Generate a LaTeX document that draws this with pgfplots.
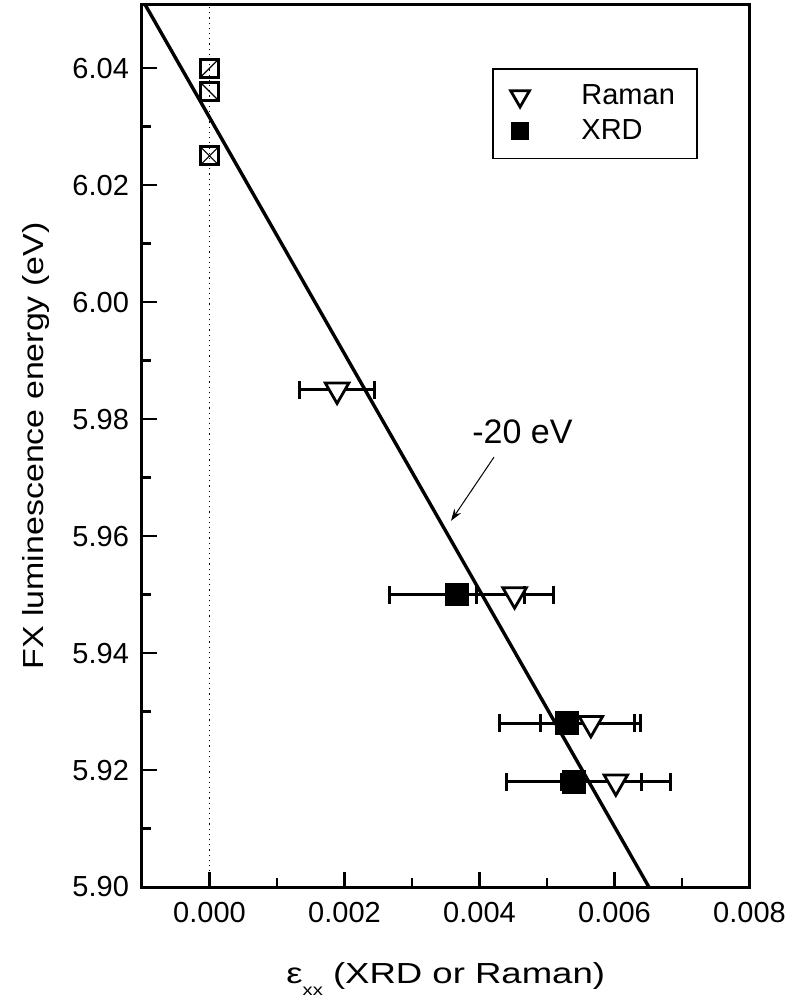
\documentclass[border=0pt]{standalone}
\usepackage{fontspec}
\setmainfont{Liberation Sans}
\usepackage{graphicx}
\usepackage{pgfplots}
\pgfplotsset{compat=1.18}
\usetikzlibrary{arrows.meta}

\pgfdeclareplotmark{sqslash}{%
  \pgfpathrectangle{\pgfpoint{-\pgfplotmarksize}{-\pgfplotmarksize}}{\pgfpoint{2\pgfplotmarksize}{2\pgfplotmarksize}}%
  \pgfusepathqstroke
  \pgfsetlinewidth{0.6pt}%
  \pgfpathmoveto{\pgfpoint{-\pgfplotmarksize}{-\pgfplotmarksize}}%
  \pgfpathlineto{\pgfpoint{\pgfplotmarksize}{\pgfplotmarksize}}%
  \pgfusepathqstroke}
\pgfdeclareplotmark{sqbackslash}{%
  \pgfpathrectangle{\pgfpoint{-\pgfplotmarksize}{-\pgfplotmarksize}}{\pgfpoint{2\pgfplotmarksize}{2\pgfplotmarksize}}%
  \pgfusepathqstroke
  \pgfsetlinewidth{0.6pt}%
  \pgfpathmoveto{\pgfpoint{-\pgfplotmarksize}{\pgfplotmarksize}}%
  \pgfpathlineto{\pgfpoint{\pgfplotmarksize}{-\pgfplotmarksize}}%
  \pgfusepathqstroke}
\pgfdeclareplotmark{sqcross}{%
  \pgfpathrectangle{\pgfpoint{-\pgfplotmarksize}{-\pgfplotmarksize}}{\pgfpoint{2\pgfplotmarksize}{2\pgfplotmarksize}}%
  \pgfusepathqstroke
  \pgfsetlinewidth{0.6pt}%
  \pgfpathmoveto{\pgfpoint{-\pgfplotmarksize}{-\pgfplotmarksize}}%
  \pgfpathlineto{\pgfpoint{\pgfplotmarksize}{\pgfplotmarksize}}%
  \pgfpathmoveto{\pgfpoint{-\pgfplotmarksize}{\pgfplotmarksize}}%
  \pgfpathlineto{\pgfpoint{\pgfplotmarksize}{-\pgfplotmarksize}}%
  \pgfusepathqstroke}

\newcommand{\tf}{\fontsize{14.5}{17}\selectfont}

\begin{document}
\begin{tikzpicture}
\useasboundingbox (-71pt,-54.5pt) rectangle (324.5pt,443.5pt);
\begin{axis}[
  at={(0pt,0pt)}, anchor=south west,
  scale only axis, width=303.75pt, height=441pt,
  xmin=-0.001, xmax=0.008, ymin=5.90, ymax=6.0508,
  xtick={0,0.002,0.004,0.006,0.008},
  ytick={5.90,5.92,5.94,5.96,5.98,6.00,6.02,6.04},
  minor x tick num=1, minor y tick num=1,
  tick align=inside, xtick pos=left, ytick pos=left,
  major tick length=7.5pt, minor tick length=4.5pt,
  axis line style={line width=1.5pt},
  every tick/.style={line width=1.3pt, black},
  scaled x ticks=false, scaled y ticks=false,
  /pgf/number format/assume math mode=true,
  xticklabel style={/pgf/number format/.cd, fixed, fixed zerofill, precision=3, /tikz/.cd, font=\tf, yshift=-4pt},
  yticklabel style={/pgf/number format/.cd, fixed, fixed zerofill, precision=2, /tikz/.cd, font=\tf, xshift=-3pt},
  xlabel={\scalebox{1.26}[1]{ε\raisebox{-6pt}{\fontsize{8}{8}\selectfont xx} (XRD or Raman)}},
  xlabel style={at={(axis description cs:0.5,-0.109)}, anchor=base, font=\tf},
  ylabel={\scalebox{1.17}[1]{FX luminescence energy (eV)}},
  ylabel style={at={(axis description cs:-0.175,0.5)}, anchor=center, font=\tf},
  legend style={at={(0.576,0.9286)}, anchor=north west, draw=black, line width=0.8pt,
    font=\tf, inner xsep=9pt, inner ysep=6pt, row sep=2pt,
    /tikz/every odd column/.append style={column sep=24pt}},
  legend cell align=left,
]
% dotted zero line
\addplot[black, line width=0.6pt, dotted, forget plot] coordinates {(0,5.90) (0,6.0508)};
% open squares at zero strain
\addplot[only marks, mark=sqslash, mark size=4.5pt, line width=1.4pt, forget plot] coordinates {(0,6.040)};
\addplot[only marks, mark=sqbackslash, mark size=4.5pt, line width=1.4pt, forget plot] coordinates {(0,6.036)};
\addplot[only marks, mark=sqcross, mark size=4.5pt, line width=1.4pt, forget plot] coordinates {(0,6.025)};
% Raman
\addplot[only marks, mark=triangle*, mark size=6.8pt, line width=1.4pt,
  mark options={rotate=180, fill=white, line width=1.4pt},
  legend image post style={mark size=5.4pt, xshift=7.5pt},
  error bars/.cd, x dir=both, x explicit,
  error bar style={line width=1.5pt},
  error mark options={line width=1.5pt, mark size=4.5pt, rotate=90}]
  coordinates {
  (0.00189,5.985) +- (0.00056,0)
  (0.00452,5.950) +- (0.00057,0)
  (0.00565,5.928) +- (0.00074,0)
  (0.00602,5.918) +- (0.00081,0)
  };
\addlegendentry{Raman}
% XRD
\addplot[only marks, mark=square*, mark size=5.5pt, line width=0.8pt,
  mark options={fill=black},
  legend image post style={mark size=4.2pt, xshift=7.5pt},
  error bars/.cd, x dir=both, x explicit,
  error bar style={line width=1.5pt},
  error mark options={line width=1.5pt, mark size=4.5pt, rotate=90}]
  coordinates {
  (0.00367,5.950) +- (0.00100,0)
  (0.00530,5.928) +- (0.00100,0)
  (0.00540,5.918) +- (0.00100,0)
  };
\addlegendentry{XRD}
% linear fit, slope -20 eV
\addplot[black, line width=1.7pt, forget plot] coordinates {(-0.001,6.0518) (0.00651,5.90)};
\node[font=\fontsize{17}{20}\selectfont] at (axis cs:0.004637,5.9778) {-20 eV};
\draw[-{Stealth[length=6pt,width=4pt]}, line width=0.5pt] (axis cs:0.004215,5.9735) -- (axis cs:0.003578,5.9626);
\end{axis}
\end{tikzpicture}
\end{document}
